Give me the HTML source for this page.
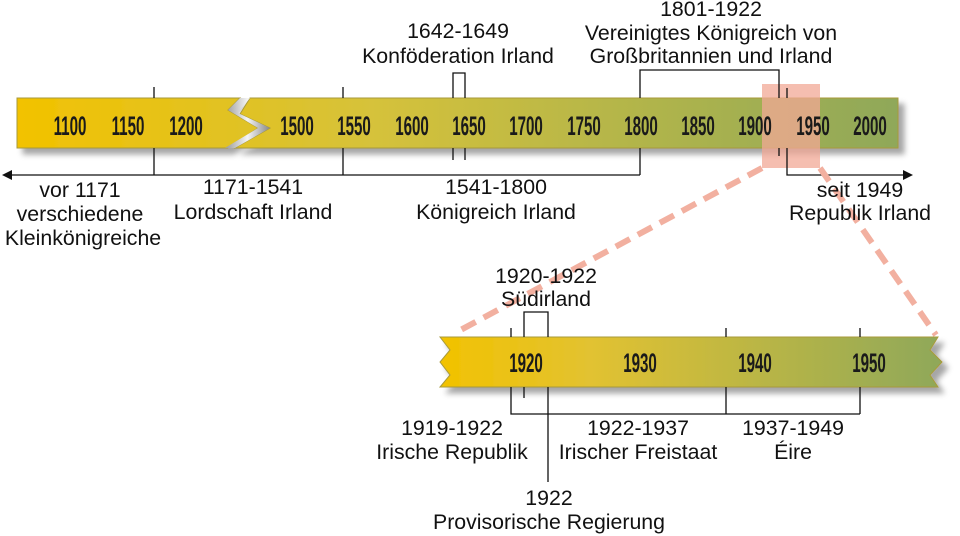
<!DOCTYPE html>
<html><head><meta charset="utf-8"><style>
html,body{margin:0;padding:0;background:#fff;}
svg{display:block;}
text{font-family:"Liberation Sans",sans-serif;}
.l{font-size:21.3px;fill:#111;text-anchor:middle;}
.y{font-size:27px;font-weight:bold;fill:#1a1a1a;text-anchor:middle;}
</style></head><body>
<svg width="960" height="536" viewBox="0 0 960 536" xmlns="http://www.w3.org/2000/svg">
<defs>
<linearGradient id="g1" gradientUnits="userSpaceOnUse" x1="17" x2="898" y1="0" y2="0">
<stop offset="0" stop-color="#f2c200"/><stop offset="0.4" stop-color="#d6c23a"/><stop offset="1" stop-color="#8fa85a"/>
</linearGradient>
<linearGradient id="g2" gradientUnits="userSpaceOnUse" x1="440" x2="940" y1="0" y2="0">
<stop offset="0" stop-color="#f2c200"/><stop offset="0.3" stop-color="#e2c231"/><stop offset="1" stop-color="#8fa85a"/>
</linearGradient>
<linearGradient id="z" x1="0" x2="1"><stop offset="0" stop-color="#999"/><stop offset="0.5" stop-color="#f4f4f4"/><stop offset="1" stop-color="#888"/></linearGradient>
<filter id="sh" x="-5%" y="-30%" width="115%" height="170%"><feDropShadow dx="6" dy="6" stdDeviation="3" flood-color="#000" flood-opacity="0.35"/></filter>
</defs>
<g filter="url(#sh)">
<polygon points="17,98 240,98 228,110 258,128 228,148 17,148" fill="url(#g1)" stroke="#a89a3a"/>
<polygon points="250,98 898,98 898,148 235,148 270,128 240,114" fill="url(#g1)" stroke="#a89a3a"/>
</g>
<polygon points="240,98 250,98 238,113 270,128 235,148 225,148 258,128 228,110" fill="url(#z)"/>
<rect x="762" y="84" width="58" height="84" fill="#f2a896" opacity="0.75"/>
<g stroke="#111" stroke-width="1.3" fill="none">
<line x1="154" y1="87" x2="154" y2="98"/><line x1="154" y1="148" x2="154" y2="175"/>
<line x1="343" y1="87" x2="343" y2="98"/><line x1="343" y1="148" x2="343" y2="175"/>
<polyline points="640,98 640,70 779,70 779,98"/>
<line x1="779" y1="148" x2="779" y2="156"/>
<line x1="640" y1="148" x2="640" y2="175"/>
<polyline points="453,98 453,73 465,73 465,98"/>
<line x1="453" y1="148" x2="453" y2="160"/><line x1="465" y1="148" x2="465" y2="160"/>
<line x1="787" y1="88" x2="787" y2="98"/>
<polyline points="787,148 787,175 905,175"/>
<line x1="10" y1="175" x2="640" y2="175"/>
</g>
<polygon points="2,175 12,170 12,180" fill="#111"/>
<polygon points="913,175 903,170 903,180" fill="#111"/>
<g>
<text class="y" x="0" y="135" transform="translate(70,0) scale(0.56,1)">1100</text>
<text class="y" x="0" y="135" transform="translate(128,0) scale(0.56,1)">1150</text>
<text class="y" x="0" y="135" transform="translate(186,0) scale(0.56,1)">1200</text>
<text class="y" x="0" y="135" transform="translate(297,0) scale(0.56,1)">1500</text>
<text class="y" x="0" y="135" transform="translate(354,0) scale(0.56,1)">1550</text>
<text class="y" x="0" y="135" transform="translate(412,0) scale(0.56,1)">1600</text>
<text class="y" x="0" y="135" transform="translate(469,0) scale(0.56,1)">1650</text>
<text class="y" x="0" y="135" transform="translate(526,0) scale(0.56,1)">1700</text>
<text class="y" x="0" y="135" transform="translate(584,0) scale(0.56,1)">1750</text>
<text class="y" x="0" y="135" transform="translate(641,0) scale(0.56,1)">1800</text>
<text class="y" x="0" y="135" transform="translate(698,0) scale(0.56,1)">1850</text>
<text class="y" x="0" y="135" transform="translate(755,0) scale(0.56,1)">1900</text>
<text class="y" x="0" y="135" transform="translate(813,0) scale(0.56,1)">1950</text>
<text class="y" x="0" y="135" transform="translate(870,0) scale(0.56,1)">2000</text>
</g>
<g stroke="#f2b0a0" stroke-width="6" stroke-dasharray="16,9" fill="none">
<line x1="762" y1="168" x2="455" y2="333"/>
<line x1="820" y1="168" x2="936" y2="335"/>
</g>
<g filter="url(#sh)">
<polygon points="440,337 938,337 930,350 942,362 930,375 938,387 440,387 450,375 440,362 450,350" fill="url(#g2)" stroke="#a89a3a"/>
</g>
<g stroke="#111" stroke-width="1.3" fill="none">
<line x1="511" y1="328" x2="511" y2="337"/><polyline points="511,387 511,414 860,414"/>
<line x1="726" y1="328" x2="726" y2="337"/><line x1="726" y1="387" x2="726" y2="414"/>
<line x1="860" y1="328" x2="860" y2="337"/><line x1="860" y1="387" x2="860" y2="414"/>
<polyline points="524,337 524,312 548,312 548,337"/>
<line x1="524" y1="387" x2="524" y2="398"/>
<line x1="548" y1="387" x2="548" y2="482"/>
</g>
<text class="y" x="0" y="372" transform="translate(526,0) scale(0.56,1)">1920</text>
<text class="y" x="0" y="372" transform="translate(640,0) scale(0.56,1)">1930</text>
<text class="y" x="0" y="372" transform="translate(755,0) scale(0.56,1)">1940</text>
<text class="y" x="0" y="372" transform="translate(869,0) scale(0.56,1)">1950</text>
<text class="l" x="458" y="38">1642-1649</text>
<text class="l" x="458" y="63">Konföderation Irland</text>
<text class="l" x="711" y="16">1801-1922</text>
<text class="l" x="711" y="40">Vereinigtes Königreich von</text>
<text class="l" x="711" y="63">Großbritannien und Irland</text>
<text class="l" x="80" y="197">vor 1171</text>
<text class="l" x="80" y="221">verschiedene</text>
<text class="l" x="83" y="245">Kleinkönigreiche</text>
<text class="l" x="253" y="194">1171-1541</text>
<text class="l" x="253" y="219">Lordschaft Irland</text>
<text class="l" x="496" y="194">1541-1800</text>
<text class="l" x="496" y="219">Königreich Irland</text>
<text class="l" x="860" y="197">seit 1949</text>
<text class="l" x="860" y="220">Republik Irland</text>
<text class="l" x="546" y="283">1920-1922</text>
<text class="l" x="546" y="306">Südirland</text>
<text class="l" x="452" y="435">1919-1922</text>
<text class="l" x="452" y="459">Irische Republik</text>
<text class="l" x="638" y="435">1922-1937</text>
<text class="l" x="638" y="459">Irischer Freistaat</text>
<text class="l" x="793" y="435">1937-1949</text>
<text class="l" x="793" y="459">Éire</text>
<text class="l" x="549" y="505">1922</text>
<text class="l" x="549" y="529">Provisorische Regierung</text>
</svg>
</body></html>
